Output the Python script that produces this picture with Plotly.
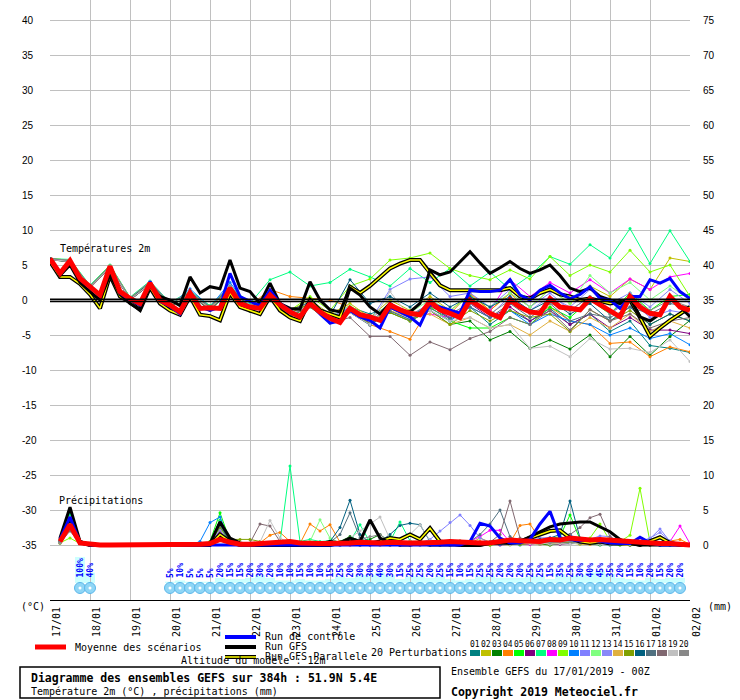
import plotly.graph_objects as go

# axe des temps : heures depuis le 17/01/2019 00Z
jours = ["17/01", "18/01", "19/01", "20/01", "21/01", "22/01", "23/01", "24/01", "25/01",
         "26/01", "27/01", "28/01", "29/01", "30/01", "31/01", "01/02", "02/02"]
heures_jours = list(range(0, 385, 24))
heures_6 = list(range(0, 385, 6))
heures_12 = list(range(0, 385, 12))

temp_ticks = [40, 35, 30, 25, 20, 15, 10, 5, 0, -5, -10, -15, -20, -25, -30, -35]
pluie_ticks = [75, 70, 65, 60, 55, 50, 45, 40, 35, 30, 25, 20, 15, 10, 5, 0]

# séries principales (pas de 6h)
moyenne_temp = [5.9, 3.8, 5.6, 3.1, 1.9, 0.7, 4.8, 1.2, 0.2, -0.5, 2.4, 0.0, -0.7,
                -1.7, 1.0, -1.2, -1.1, -1.2, 1.7, -0.5, -1.0, -1.2, 0.7, -0.7, -1.7, -2.4,
                -0.5, -1.7, -2.6, -3.2, -1.2, -2.1, -2.4, -2.9, -0.7, -1.4, -1.9, -2.1, -0.2,
                -1.4, -1.9, -2.5, 0.0, -1.0, -1.9, -2.5, 0.0, -1.0, -1.7, -1.9, 0.2, -1.0,
                -1.2, -1.4, 0.2, -0.7, -1.4, -2.4, 0.5, -1.0, -1.9, -2.1, 0.5, -1.0, -1.5]
controle_temp = [5.9, 3.7, 5.5, 3.0, 1.8, 0.6, 4.7, 1.0, 0.0, -0.7, 2.6, -0.2, -0.9,
                 -2.0, 1.2, -1.0, -1.5, -1.0, 3.8, 0.5, -0.2, -0.8, 1.4, -0.5, -1.5, -2.5,
                 -0.3, -2.0, -3.3, -3.0, -1.5, -2.4, -2.9, -4.0, -1.0, -1.7, -2.4, -3.6, -0.5,
                 -1.0, -1.5, -1.9, 1.4, 1.2, 1.2, 1.4, 2.9, 0.7, 0.0, 1.4, 2.1, 1.0,
                 0.2, 0.8, 1.9, 0.2, 0.0, -1.2, 0.5, 0.5, 2.9, 2.4, 3.1, 1.2, 0.2]
gfs_temp = [6.0, 3.5, 5.0, 2.5, 1.2, 0.0, 3.6, 0.8, -0.5, -1.4, 2.0, 0.5, 0.0,
            -0.8, 3.3, 1.0, 1.9, 1.6, 5.7, 1.7, 1.2, -0.5, 2.4, -0.5, -1.2, -1.3,
            2.6, 0.0, -1.4, -1.7, 1.7, 0.7, -1.0, -2.0, -0.5, -1.5, -1.7, -0.5, 4.3,
            3.6, 4.0, 5.5, 6.9, 5.3, 3.8, 4.6, 5.5, 4.5, 3.8, 4.3, 5.0, 3.5,
            1.7, 1.2, 1.7, 0.5, 0.0, -0.5, 0.3, -2.4, -3.0, -2.0, 0.5, -1.0, -2.4]
parallele_temp = [5.5, 3.3, 3.3, 2.3, 0.8, -1.2, 3.5, 0.5, -0.3, -1.4, 1.8, -0.5, -1.5,
                  -2.1, 0.5, -2.1, -2.3, -2.9, 1.0, -1.0, -1.5, -2.0, 0.5, -1.5, -2.5, -3.0,
                  0.0, -1.5, -2.0, -2.5, 1.9, 1.0, 2.0, 3.3, 4.5, 5.2, 5.7, 5.7, 3.8,
                  2.1, 1.4, 1.4, 1.4, 1.4, 1.4, 1.4, 1.7, 0.5, 0.2, 1.0, 1.5, 0.8,
                  0.5, 0.0, 0.2, -0.2, -0.5, -0.3, 0.0, -2.5, -5.2, -4.0, -2.9, -2.0, -1.0]

moyenne_pluie = [None, 0.5, 2.9, 0.3, 0.1, 0.0, 0.0, 0.0, 0.0, 0.0, 0.0, 0.0, 0.1,
                 0.1, 0.1, 0.1, 0.2, 0.8, 0.4, 0.1, 0.1, 0.2, 0.2, 0.3, 0.5, 0.3,
                 0.2, 0.2, 0.2, 0.2, 0.3, 0.4, 0.3, 0.3, 0.4, 0.3, 0.3, 0.3, 0.3,
                 0.4, 0.5, 0.4, 0.3, 0.3, 0.3, 0.5, 0.7, 0.6, 0.5, 0.5, 0.8, 0.7,
                 1.0, 0.8, 0.7, 0.8, 0.7, 0.6, 0.5, 0.3, 0.3, 0.2, 0.2, 0.1, 0.0]
controle_pluie = [None, 0.8, 4.0, 0.3, 0.0, 0.0, 0.0, 0.0, 0.0, 0.0, 0.0, 0.0, 0.0,
                  0.0, 0.0, 0.0, 0.0, 0.0, 0.0, 0.0, 0.0, 0.0, 0.0, 0.0, 0.0, 0.0,
                  0.0, 0.0, 0.0, 0.0, 0.0, 0.0, 0.0, 0.0, 0.0, 0.0, 0.0, 0.0, 0.0,
                  0.0, 0.0, 0.0, 0.5, 3.1, 2.7, 1.0, 0.3, 0.3, 0.8, 3.0, 4.8, 1.0,
                  0.8, 0.6, 0.8, 0.5, 0.3, 0.2, 0.2, 1.1, 0.3, 0.0, 0.0, 0.0, 0.0]
gfs_pluie = [None, 1.0, 5.4, 0.5, 0.0, 0.0, 0.0, 0.0, 0.0, 0.0, 0.0, 0.0, 0.0,
             0.0, 0.0, 0.0, 0.2, 3.3, 1.0, 0.3, 0.0, 0.0, 0.2, 0.0, 0.0, 0.0,
             0.0, 0.2, 0.5, 0.3, 1.0, 0.5, 3.6, 1.0, 0.3, 0.0, 0.0, 0.2, 0.0,
             0.0, 0.0, 0.0, 0.0, 0.0, 0.2, 0.2, 0.3, 0.5, 1.2, 1.9, 2.6, 3.0,
             3.2, 3.3, 3.3, 2.6, 1.9, 0.8, 0.2, 0.0, 0.0, 0.0, 0.0, 0.0, 0.0]
parallele_pluie = [None, 0.8, 3.0, 0.4, 0.0, 0.0, 0.0, 0.0, 0.0, 0.0, 0.0, 0.0, 0.0,
                   0.0, 0.0, 0.0, 0.0, 1.5, 0.5, 0.0, 0.0, 0.0, 0.0, 0.0, 0.0, 0.0,
                   0.0, 0.0, 0.0, 0.3, 0.5, 0.3, 0.2, 0.5, 1.0, 0.8, 1.5, 0.8, 2.4,
                   0.5, 0.2, 0.0, 0.0, 0.0, 0.3, 0.5, 0.3, 0.5, 1.0, 1.5, 2.0, 2.1,
                   1.0, 0.5, 0.3, 0.5, 0.2, 0.2, 0.3, 0.0, 0.5, 1.1, 0.3, 0.0, 0.0]

# 20 perturbations : température (pas de 12h)
temp_p01 = [5.8, 5.5, 1.8, 4.7, 0.1, 2.3, -0.9, 1.1, -1.4, 1.5, -1.5,
            0.2, -2.0, -0.8, -3.0, -1.0, -2.0, -1.0, -2.5, -0.5, -2.8, -1.0,
            -3.5, -1.5, -3.0, -1.2, -3.5, -2.0, -4.5, -3.0, -6.5, -6.9, -7.5]
temp_p02 = [5.9, 5.7, 2.0, 4.9, 0.3, 2.6, -0.5, 1.2, -1.0, 2.0, -0.8,
            1.0, -1.5, 0.0, -2.0, -0.5, -2.5, 0.0, -1.5, 0.5, -1.5, 0.8,
            -1.5, 1.0, -1.0, 1.5, -0.5, 2.0, 0.5, 3.0, 1.5, 6.0, 5.5]
temp_p03 = [5.8, 5.4, 1.7, 4.6, 0.0, 2.2, -1.0, 0.8, -1.5, 1.3, -1.6,
            0.3, -2.3, -1.0, -3.2, -1.8, -3.5, -1.8, -3.0, -1.5, -3.5, -3.0,
            -5.7, -4.5, -6.9, -5.7, -7.0, -5.0, -8.1, -5.2, -7.9, -5.2, -2.9]
temp_p04 = [5.9, 5.5, 1.8, 4.8, 0.2, 2.5, -0.6, 1.0, -1.2, 1.8, -0.8,
            1.5, 0.5, 0.3, 0.0, -1.0, -3.5, -4.5, -5.6, -1.0, -2.0, 1.0,
            -1.5, 1.0, -2.0, -1.0, -3.0, -3.5, -6.2, -6.0, -8.1, -6.7, -7.4]
temp_p05 = [5.9, 5.6, 2.0, 4.9, 0.3, 2.5, -0.6, 1.1, -1.0, 1.8, -1.2,
            0.6, -1.8, -0.6, -2.8, -1.5, -3.2, -1.0, -2.5, -1.0, -3.0, -4.0,
            -4.0, -2.5, -3.5, -1.0, -2.5, 0.0, -2.0, 1.0, -1.5, 0.5, 0.8]
temp_p06 = [5.8, 5.6, 1.9, 4.7, 0.2, 2.3, -0.8, 0.9, -1.3, 1.6, -1.3,
            0.5, -2.0, -0.7, -3.0, -1.5, -3.3, -1.2, -2.4, -0.8, -2.5, -0.5,
            -2.5, -1.0, -3.0, -1.5, -3.5, -2.0, -4.0, -2.5, -4.3, -4.3, -4.8]
temp_p07 = [5.9, 5.8, 2.1, 5.0, 0.4, 2.7, -0.4, 1.3, -0.8, 2.0, -0.5,
            2.9, 4.0, 2.0, 2.5, 4.4, 3.3, 2.0, 4.5, 2.5, 4.5, 2.0,
            4.0, 1.5, 3.5, 6.2, 5.1, 7.9, 6.0, 10.2, 5.2, 9.9, 5.5]
temp_p08 = [5.9, 5.6, 2.0, 4.8, 0.3, 2.4, -0.7, 1.0, -1.1, 1.9, -1.0,
            0.8, -1.6, -0.4, -2.5, -1.0, -2.8, -0.5, -2.0, -2.0, -2.5, -0.5,
            -1.5, 2.9, 0.5, 2.5, 1.0, 2.9, 1.0, 3.0, 1.5, 3.3, 3.8]
temp_p09 = [5.9, 5.7, 2.0, 4.9, 0.3, 2.5, -0.6, 1.2, -0.9, 1.9, -0.8,
            1.0, -1.5, 0.5, -1.5, 2.0, 3.0, 5.7, 6.0, 6.7, 4.5, 3.5,
            2.9, 4.3, 3.0, 6.2, 3.5, 5.0, 4.0, 7.1, 4.0, 5.0, 0.5]
temp_p10 = [5.8, 5.5, 1.8, 4.7, 0.1, 2.4, -0.8, 1.6, -1.0, 2.5, -1.2,
            0.5, -2.0, -0.8, -3.0, -1.5, -3.5, -1.5, -2.8, -1.5, -3.0, -1.0,
            -2.5, -1.5, -3.5, -2.0, -3.0, -3.5, -5.0, -4.0, -5.5, -4.8, -6.4]
temp_p11 = [5.9, 5.6, 1.9, 4.8, 0.2, 2.6, -0.5, 1.2, -1.0, 2.0, -0.8,
            1.0, -1.5, -0.3, -2.5, -1.0, -3.0, 1.5, 3.0, 3.3, 0.5, 1.0,
            -1.0, 1.5, -1.0, 1.0, -1.5, 0.5, -2.0, 0.0, -2.5, -1.5, -2.0]
temp_p12 = [5.9, 5.7, 2.0, 4.9, 0.3, 2.5, -0.6, 1.1, -1.0, 1.8, -0.9,
            0.8, -1.6, -0.4, -2.4, -0.8, -2.6, -0.5, -1.8, 0.0, -1.5, 0.5,
            -1.0, 1.0, -1.0, 1.5, -0.5, 3.5, 1.0, 2.5, 0.0, 2.0, 0.0]
temp_p13 = [5.8, 5.5, 1.8, 4.7, 0.1, 2.3, -0.8, 0.9, -1.2, 1.6, -1.2,
            0.5, -1.9, -0.7, -2.8, -1.3, -3.2, -1.0, -2.2, -0.5, -2.2, -0.3,
            -2.2, 0.5, -1.5, 0.5, -1.0, 1.5, -0.5, 1.0, -1.0, 1.5, -0.5]
temp_p14 = [5.9, 5.6, 1.9, 4.8, 0.2, 2.4, -0.7, 1.0, -1.1, 1.7, -1.1,
            0.6, -1.8, -0.6, -2.7, -1.4, -3.0, -1.5, -2.5, -2.0, -3.5, -2.5,
            -4.0, -3.5, -5.0, -3.0, -4.5, -2.5, -4.0, -2.0, -4.5, -3.0, -4.0]
temp_p15 = [5.8, 5.5, 1.8, 4.7, 0.1, 2.3, -0.8, 0.9, -1.2, 1.6, -1.1,
            0.6, -1.9, -0.5, -3.0, -1.6, -3.4, -1.8, -3.0, -1.5, -3.5, -1.5,
            -3.0, -1.5, -2.5, -2.0, -4.5, -1.4, -3.0, -1.5, -3.5, -2.0, -3.0]
temp_p16 = [5.9, 5.6, 2.0, 4.8, 0.2, 2.5, -0.6, 1.1, -1.0, 1.8, -1.0,
            0.8, -1.5, -0.3, -2.2, 2.9, -0.5, 0.5, -1.0, 1.0, -1.0, 0.5,
            -1.0, 0.5, -1.5, 0.0, -2.0, -0.5, -3.0, -1.0, -3.5, -2.0, -3.0]
temp_p17 = [5.8, 5.5, 1.8, 4.6, 0.0, 2.2, -0.9, 0.8, -1.4, 1.4, -1.4,
            0.4, -2.1, -0.8, -3.1, -1.8, -3.6, -1.6, -2.8, -1.2, -2.6, -1.0,
            -2.5, -0.5, -2.5, -0.5, -3.0, -2.0, -2.5, -1.0, -2.0, -0.5, -1.0]
temp_p18 = [5.8, 5.4, 1.7, 4.6, 0.0, 2.2, -0.9, 0.8, -1.3, 1.5, -1.4,
            0.4, -2.2, -0.9, -3.3, -2.5, -5.2, -5.2, -7.9, -6.0, -7.1, -5.5,
            -4.5, -2.5, -3.5, -1.5, -4.3, -1.4, -3.0, -2.0, -4.0, -3.0, -2.5]
temp_p19 = [5.8, 5.5, 1.8, 4.7, 0.1, 2.3, -0.8, 0.9, -1.2, 1.5, -1.3,
            0.4, -2.0, -0.8, -3.0, -1.8, -3.5, 1.2, -2.5, -1.5, -3.0, -2.5,
            -4.0, -3.5, -6.9, -6.6, -8.1, -5.5, -7.0, -6.9, -7.5, -5.7, -8.8]
temp_p20 = [5.9, 5.7, 2.0, 4.9, 0.3, 2.6, -0.5, 1.2, -1.0, 2.0, -0.9,
            0.9, -1.5, -0.4, -2.6, -1.2, -3.0, -1.0, -2.3, -0.5, -2.0, -0.5,
            -2.0, 0.0, -2.0, -0.5, -1.5, 0.5, -2.0, 0.5, -1.5, 0.0, -1.0]

# 20 perturbations : précipitations en mm (pas de 6h)
pluie_p01 = [None, 0.6, 4.5, 0.3, 0, 0, 0, 0, 0, 0, 0, 0, 0,
             0, 0, 0, 0.3, 2.0, 0.2, 0, 0, 0.1, 0.2, 0.1, 0, 0,
             0.2, 0.1, 0, 0, 0.3, 0.1, 0, 0.2, 0, 0.1, 0.4, 0.2, 0,
             0, 0.1, 0.2, 0, 0.1, 0.3, 0.5, 0.2, 0, 0.3, 0.2, 0.1, 0.4,
             1.5, 0.3, 0.2, 0.1, 0, 0.2, 0.4, 0.1, 0, 0, 0.1, 0, 0]
pluie_p02 = [None, 0.5, 3.5, 0.2, 0, 0, 0, 0, 0, 0, 0, 0, 0,
             0, 0, 0, 0.2, 2.5, 0.3, 0.1, 0, 0, 0.1, 0.3, 0.1, 0,
             0, 0.2, 0.1, 0, 0, 0.2, 0.3, 0.1, 0, 0, 0.2, 0.1, 0.3,
             0.1, 0, 0, 0.2, 1.0, 0.4, 0.1, 0, 0.2, 0.3, 0.1, 0, 0.2,
             0.3, 0.1, 0.2, 0.8, 0.2, 0, 0, 0.1, 0, 0.2, 0.1, 0, 0]
pluie_p03 = [None, 0.4, 3.0, 0.3, 0, 0, 0, 0, 0, 0, 0, 0, 0,
             0, 0, 0, 0.4, 3.5, 0.4, 0.2, 0.1, 0, 0, 0.2, 0.3, 0.1,
             0, 0, 0.3, 0.5, 1.2, 0.6, 0.8, 1.5, 0.4, 0.2, 0, 0.1, 0,
             0, 0, 0.1, 0.3, 0.2, 0, 0.1, 0.2, 0.4, 0.3, 0.1, 0, 0.2,
             0.4, 0.3, 0.1, 0, 0.2, 0.1, 0, 0, 0.3, 0.2, 0, 0.1, 0]
pluie_p04 = [None, 0.5, 3.0, 0.2, 0, 0, 0, 0, 0, 0, 0, 0, 0,
             0, 0, 0, 0.2, 1.9, 0.3, 0, 0.1, 0.3, 1.4, 1.8, 0.5, 0.2,
             3.0, 2.0, 2.9, 0.4, 0.1, 0, 0.2, 0.1, 0, 0.3, 0.2, 0.5, 0.3,
             0.1, 0, 0.2, 0.3, 0.5, 0.2, 0.4, 0.3, 2.8, 3.0, 0.8, 0.4, 0.2,
             0.3, 0.2, 0.1, 0.4, 0.2, 0.1, 0, 0.2, 0.1, 0.3, 0.5, 0.8, 0.1]
pluie_p05 = [None, 0.7, 4.0, 0.4, 0, 0, 0, 0, 0, 0, 0, 0, 0,
             0, 0, 0, 0.5, 4.6, 0.6, 0.1, 0, 0, 0.2, 0.1, 0, 0.1,
             0.3, 0.2, 0, 0.1, 0.2, 0.4, 0.3, 0.5, 1.3, 0.4, 0.2, 0.1, 0,
             0.2, 0.1, 0, 0.1, 0.3, 0.2, 0.1, 0.3, 0.2, 0.4, 0.6, 0.9, 1.2,
             4.3, 0.8, 0.3, 0.2, 0.1, 0, 0.2, 0.3, 0.1, 0, 0.2, 0.1, 0]
pluie_p06 = [None, 0.5, 3.5, 0.3, 0, 0, 0, 0, 0, 0, 0, 0, 0,
             0, 0, 0, 0.2, 1.5, 0.2, 0, 0, 0.1, 0, 0, 0.2, 0.1,
             0, 0, 0.1, 0.2, 0.1, 0, 0, 0.2, 0.1, 0, 0.1, 0, 0.2,
             0.1, 0, 0, 0.2, 0.3, 0.1, 0, 0.1, 0.2, 0.1, 0.3, 0.2, 0.1,
             0.2, 0.4, 0.3, 0.2, 0.8, 0.3, 0.1, 0, 0, 0.1, 0, 0, 0]
pluie_p07 = [None, 0.6, 4.2, 0.3, 0, 0, 0, 0, 0, 0, 0, 0, 0,
             0, 0, 0, 0.4, 3.5, 0.5, 0.1, 0, 0, 0.2, 0.4, 11.3, 0.5,
             0.8, 0.5, 0.6, 0.3, 0.5, 2.9, 0.4, 0.3, 0.5, 3.3, 0.6, 0.2, 0.1,
             0, 0.2, 0.3, 0.1, 0.2, 0.4, 0.2, 0.1, 0.3, 0.2, 0.5, 0.3, 0.2,
             0.4, 0.2, 0.3, 0.1, 0, 0.2, 0.1, 0.3, 0.2, 0.1, 0, 0.1, 0]
pluie_p08 = [None, 0.6, 3.9, 0.5, 0.1, 0, 0, 0, 0, 0, 0, 0, 0,
             0, 0, 0, 0.2, 2.0, 0.3, 0, 0, 0.1, 0, 0.2, 0.1, 0,
             0.1, 0, 0.2, 0.1, 0, 0.3, 0.1, 0, 0.2, 0.1, 0, 0.2, 0.3,
             0.1, 0.2, 0.3, 0.5, 1.2, 2.1, 2.1, 0.4, 0.2, 0.1, 0.3, 0.5, 0.8,
             0.6, 0.3, 0.2, 0.5, 0.7, 0.4, 0.2, 0.1, 0.3, 0.2, 0.5, 2.7, 0.2]
pluie_p09 = [None, 0.3, 1.0, 0.2, 0, 0, 0, 0, 0, 0, 0, 0, 0,
             0, 0, 0, 0.3, 2.5, 0.4, 0.2, 0.1, 0, 0, 0.1, 0.2, 0,
             0.1, 0.3, 0.2, 0, 0.1, 0.2, 0.1, 0, 0.2, 0.3, 0.1, 0, 0.1,
             0, 0.1, 0.3, 0.2, 0.1, 0, 0.2, 0.3, 0.1, 0.2, 0.4, 0.3, 0.6,
             0.8, 0.5, 1.0, 3.0, 0.6, 0.5, 1.4, 8.1, 0.4, 0.2, 0.1, 0, 0]
pluie_p10 = [None, 0.5, 3.0, 0.2, 0, 0, 0, 0, 0, 0, 0, 0, 0,
             0, 0, 0.5, 3.2, 4.0, 0.5, 0.1, 0, 0, 0.1, 0, 0, 0.1,
             0, 0.1, 0, 0.2, 0.1, 0, 0.1, 0.3, 0.2, 0.1, 0, 0.1, 0,
             0.1, 0.2, 0, 0.1, 0.3, 0.2, 0.1, 0.2, 0.4, 0.3, 0.5, 0.6, 0.8,
             1.5, 0.5, 0.2, 0.3, 0.1, 0.2, 0, 0.1, 0.3, 0.1, 0, 0.2, 0]
pluie_p11 = [None, 0.4, 2.5, 0.2, 0, 0, 0, 0, 0, 0, 0, 0, 0,
             0, 0, 0, 0.1, 0.8, 0.2, 0, 0.1, 0, 0, 0.1, 0, 0,
             0.2, 0.1, 0, 0, 0.1, 0.2, 0.1, 0, 0.3, 0.2, 0.5, 0.3, 0.8,
             2.0, 3.2, 4.3, 2.8, 1.0, 0.3, 0.2, 0.1, 0.3, 0.2, 0.1, 0.4, 0.3,
             0.2, 0.5, 0.8, 1.3, 1.2, 0.4, 0.3, 0.4, 0.9, 2.3, 0.5, 0.2, 0]
pluie_p12 = [None, 0.6, 3.8, 0.3, 0, 0, 0, 0, 0, 0, 0, 0, 0,
             0, 0, 0, 0.3, 3.0, 0.4, 0.1, 0, 0, 0.1, 0.2, 0.3, 0.1,
             0.5, 3.6, 1.0, 0.3, 0.2, 0.1, 0.3, 0.2, 0.4, 0.2, 0.1, 0.3, 0.2,
             0.1, 0, 0.2, 0.1, 0.3, 0.2, 0.4, 0.3, 0.2, 0.5, 0.4, 0.2, 0.3,
             0.5, 0.3, 0.6, 0.4, 0.2, 0.1, 0.2, 0.3, 0.1, 0, 0.2, 0.1, 0]
pluie_p13 = [None, 0.5, 3.3, 0.2, 0, 0, 0, 0, 0, 0, 0, 0, 0,
             0, 0, 0, 0.2, 2.2, 0.3, 0, 0, 0, 0.1, 0, 0.2, 0.1,
             0, 0.1, 0.2, 0, 0.1, 0, 0.2, 0.1, 0.3, 0.2, 0.1, 0, 0.2,
             0.3, 0.4, 0.6, 0.3, 0.2, 0.5, 0.3, 0.2, 0.4, 0.6, 1.0, 1.1, 0.5,
             0.3, 0.2, 0.4, 0.2, 0.1, 0.2, 0.3, 0.5, 1.0, 1.8, 0.6, 0.2, 0]
pluie_p14 = [None, 0.4, 2.8, 0.2, 0, 0, 0, 0, 0, 0, 0, 0, 0,
             0, 0, 0, 0.2, 1.5, 0.2, 0, 0, 0.1, 0, 0, 0.1, 0,
             0.2, 0.1, 0, 0.1, 0, 0.2, 0.1, 0, 0.2, 0.4, 0.5, 0.6, 0.3,
             0.2, 0.4, 0.6, 0.4, 0.3, 0.2, 0.5, 0.4, 0.3, 0.2, 0.1, 0.3, 0.2,
             0.3, 0.2, 0.1, 0.4, 0.2, 0.1, 0.3, 0.2, 0.1, 0, 0.1, 0, 0]
pluie_p15 = [None, 0.3, 2.2, 0.2, 0, 0, 0, 0, 0, 0, 0, 0, 0,
             0, 0, 0, 0.5, 2.5, 0.8, 0.8, 0.8, 0.5, 0.1, 0, 0.2, 0.1,
             0, 0.2, 0.1, 0.3, 0.2, 0, 0.3, 0.1, 0.2, 0, 0.1, 0.2, 0.1,
             0, 0.2, 0.1, 0.3, 0.2, 0.4, 0.3, 0.2, 0.1, 0.2, 0.3, 0.5, 0.4,
             0.3, 0.2, 0.4, 0.3, 0.1, 0.2, 0, 0.1, 0.2, 0, 0.1, 0, 0]
pluie_p16 = [None, 0.5, 3.6, 0.3, 0, 0, 0, 0, 0, 0, 0, 0, 0,
             0, 0, 0, 0.3, 3.0, 0.3, 0.1, 0, 0, 0.2, 0.1, 0, 0.2,
             0.1, 0.3, 0.5, 2.5, 6.4, 1.5, 0.3, 0.5, 1.5, 2.8, 3.1, 2.9, 0.5,
             0.3, 0.2, 0.1, 0.2, 0.4, 0.3, 0.5, 0.2, 0.3, 0.5, 0.8, 1.0, 1.5,
             6.3, 1.0, 0.4, 0.3, 0.2, 0.1, 0.2, 0.3, 0.1, 0, 0.2, 0, 0]
pluie_p17 = [None, 0.5, 3.2, 0.2, 0, 0, 0, 0, 0, 0, 0, 0, 0,
             0, 0, 0, 0.3, 2.8, 0.3, 0, 0.1, 0, 0, 0.2, 0.1, 0,
             0.2, 0.1, 0.4, 1.5, 4.6, 1.0, 0.2, 0.3, 0.1, 0, 0.2, 0.1, 0.3,
             0.2, 0.1, 0.3, 0.5, 1.5, 3.0, 5.0, 1.2, 0.4, 0.3, 0.2, 0.5, 0.3,
             0.2, 0.4, 0.3, 0.2, 0.1, 0.3, 0.2, 0.1, 0, 0.2, 0.1, 0, 0]
pluie_p18 = [None, 0.3, 2.0, 0.2, 0, 0, 0, 0, 0, 0, 0, 0, 0,
             0, 0, 0, 0.1, 0.8, 0.2, 0.1, 0.3, 3.0, 2.7, 0.5, 0.2, 0.1,
             0, 0.2, 0.1, 0, 0.3, 0.2, 0.1, 0.2, 0, 0.1, 0.3, 0.2, 0.1,
             0, 0.2, 0.3, 0.1, 0.2, 0.4, 1.5, 6.3, 1.0, 0.3, 0.2, 0.4, 0.6,
             1.5, 2.5, 3.9, 4.4, 1.2, 0.3, 0.2, 0.1, 0.3, 0.2, 0.4, 0.1, 0]
pluie_p19 = [None, 0.4, 2.6, 0.2, 0, 0, 0, 0, 0, 0, 0, 0, 0,
             0, 0, 0, 0.2, 1.0, 0.2, 0.1, 0, 0.4, 3.5, 1.0, 0.2, 0.1,
             0.3, 0.1, 0.2, 0.4, 1.0, 2.0, 3.0, 4.0, 0.8, 0.5, 1.5, 2.9, 0.6,
             0.2, 0.1, 0.3, 0.2, 0.1, 0.3, 0.2, 0.1, 0.4, 0.2, 0.3, 0.1, 0.2,
             0.1, 0.3, 0.2, 0.1, 0, 0.2, 0.1, 0.3, 0.2, 0.1, 0, 0.1, 0]
pluie_p20 = [None, 0.4, 3.0, 0.2, 0, 0, 0, 0, 0, 0, 0, 0, 0,
             0, 0, 0, 0.2, 1.8, 0.3, 0.1, 0, 0.2, 0.3, 0.1, 0, 0.1,
             0.2, 0, 0.1, 0.3, 0.5, 0.8, 1.2, 1.5, 0.4, 0.2, 0.1, 0.3, 0.2,
             0.1, 0.3, 0.2, 0.4, 0.3, 0.5, 0.3, 0.2, 0.4, 0.6, 0.5, 0.3, 0.4,
             0.5, 0.3, 0.4, 0.2, 0.3, 0.1, 0.2, 0.4, 0.3, 0.2, 0.1, 0.1, 0]

couleurs_perturbations = ["#008080", "#C0C000", "#008000", "#FF8000", "#00FF00",
                          "#800080", "#00FF80", "#FF00FF", "#80FF00", "#0080FF",
                          "#8080FF", "#80FF80", "#8888F8", "#E0B040", "#80A000",
                          "#006080", "#507080", "#806870", "#C0C0C0", "#888888"]
noms_perturbations = ["01", "02", "03", "04", "05", "06", "07", "08", "09", "10",
                      "11", "12", "13", "14", "15", "16", "17", "18", "19", "20"]

# probabilité de précipitations (%)
heures_proba = [18, 24] + list(range(72, 384, 6))
proba_pluie = [100, 40, 5, 10, 5, 5, 5, 20, 15, 15, 20, 30, 20, 10, 10, 15, 10, 10, 15, 25,
               20, 30, 30, 40, 30, 15, 25, 25, 20, 25, 15, 10, 15, 25, 25, 20, 20, 20, 25, 25,
               15, 35, 25, 30, 40, 45, 35, 20, 15, 10, 20, 15, 20, 20]

temp_perturbations = [temp_p01, temp_p02, temp_p03, temp_p04, temp_p05, temp_p06, temp_p07,
                      temp_p08, temp_p09, temp_p10, temp_p11, temp_p12, temp_p13, temp_p14,
                      temp_p15, temp_p16, temp_p17, temp_p18, temp_p19, temp_p20]
pluie_perturbations = [pluie_p01, pluie_p02, pluie_p03, pluie_p04, pluie_p05, pluie_p06,
                       pluie_p07, pluie_p08, pluie_p09, pluie_p10, pluie_p11, pluie_p12,
                       pluie_p13, pluie_p14, pluie_p15, pluie_p16, pluie_p17, pluie_p18,
                       pluie_p19, pluie_p20]

MONO = "DejaVu Sans Mono"
SANS = "Liberation Sans"
Y_HAUT = 300 / 7  # 7 px par degré, zone de tracé de 600 px
Y_NEIGE = -41.14


def px(x, y):
    # pixel de la page -> coordonnées papier
    return (x - 50) / 640, (600 - y) / 600


fig = go.Figure()

for temp, pluie, col in zip(temp_perturbations, pluie_perturbations, couleurs_perturbations):
    fig.add_trace(go.Scatter(x=heures_12, y=temp, mode="lines+markers",
                             line=dict(color=col, width=1), marker=dict(color=col, size=3)))
    fig.add_trace(go.Scatter(x=heures_6, y=pluie, yaxis="y2", mode="lines+markers",
                             line=dict(color=col, width=1), marker=dict(color=col, size=3)))

# run GFS parallèle : trait jaune bordé de noir
for ax, vals in (("y", parallele_temp), ("y2", parallele_pluie)):
    fig.add_trace(go.Scatter(x=heures_6, y=vals, yaxis=ax, mode="lines",
                             line=dict(color="black", width=4)))
    fig.add_trace(go.Scatter(x=heures_6, y=vals, yaxis=ax, mode="lines",
                             line=dict(color="#FFFF00", width=1.5)))

for vals_t, vals_p, col, w in [(gfs_temp, gfs_pluie, "black", 3),
                               (controle_temp, controle_pluie, "#0000FF", 3),
                               (moyenne_temp, moyenne_pluie, "#FF0000", 5)]:
    fig.add_trace(go.Scatter(x=heures_6, y=vals_t, mode="lines", line=dict(color=col, width=w)))
    fig.add_trace(go.Scatter(x=heures_6, y=vals_p, yaxis="y2", mode="lines",
                             line=dict(color=col, width=w)))

# icônes de neige sous la zone de précipitations
fig.add_trace(go.Scatter(x=heures_proba, y=[Y_NEIGE] * len(heures_proba), mode="markers",
                         marker=dict(symbol="circle", size=11, color="#8FD6F6",
                                     line=dict(color="#5AB6EA", width=1))))
fig.add_trace(go.Scatter(x=heures_proba, y=[Y_NEIGE] * len(heures_proba), mode="markers",
                         marker=dict(symbol="circle", size=3, color="white")))

shapes = []
annotations = []

# ligne double du 0 °C
for y0 in (0.1, -0.2):
    shapes.append(dict(type="line", xref="paper", x0=0, x1=1, yref="y", y0=y0, y1=y0,
                       line=dict(color="black", width=1.5)))

for h, p in zip(heures_proba, proba_pluie):
    shapes.append(dict(type="rect", xref="x", yref="y", x0=h - 3, x1=h + 3,
                       y0=-40.43, y1=-40.43 + 0.26 * p / 7, fillcolor="#CCFFFF",
                       line=dict(width=0), layer="below"))
    annotations.append(dict(x=h, y=-40, xref="x", yref="y", text=f"{p}%", textangle=-90,
                            showarrow=False, xanchor="center", yanchor="bottom",
                            font=dict(family=MONO, size=8, color="#0000FF", weight="bold")))

for v in temp_ticks:
    annotations.append(dict(x=px(20, 0)[0], xref="paper", y=v, yref="y", text=str(v),
                            showarrow=False, xanchor="left", yanchor="middle",
                            font=dict(family=SANS, size=10, color="black")))


def texte(x, y, t, taille=10, gras=False):
    xp, yp = px(x, y)
    annotations.append(dict(x=xp, y=yp, xref="paper", yref="paper", text=t, showarrow=False,
                            xanchor="left", yanchor="middle",
                            font=dict(family=MONO, size=taille, color="black",
                                      weight="bold" if gras else "normal")))


def trait(x0, x1, y, col, w):
    a, b = px(x0, y)
    c, _ = px(x1, y)
    shapes.append(dict(type="line", xref="paper", yref="paper", x0=a, x1=c, y0=b, y1=b,
                       line=dict(color=col, width=w)))


texte(58, 248, "Températures 2m")
texte(57, 500, "Précipitations")
texte(19, 606, "(°C)")
texte(706, 606, "(mm)")

trait(35, 66, 647, "#FF0000", 5)
texte(73, 647, "Moyenne des scénarios")
trait(225, 256, 637, "#0000FF", 4)
texte(263, 636, "Run de contrôle")
trait(225, 256, 647, "black", 4)
texte(263, 646, "Run GFS")
trait(225, 256, 657, "black", 4)
trait(225, 256, 657, "#FFFF00", 1.5)
texte(263, 656, "Run GFS Parallele")
texte(179, 660, "Altitude du modèle : 12m")
texte(369, 652, "20 Perturbations")

for i, (nom, col) in enumerate(zip(noms_perturbations, couleurs_perturbations)):
    x0 = 470 + 11 * i
    a, b = px(x0, 650)
    c, d = px(x0 + 10, 656)
    shapes.append(dict(type="rect", xref="paper", yref="paper", x0=a, x1=c, y0=b, y1=d,
                       fillcolor=col, line=dict(width=0)))
    xp, yp = px(x0 + 5, 644)
    annotations.append(dict(x=xp, y=yp, xref="paper", yref="paper", text=nom, showarrow=False,
                            xanchor="center", yanchor="middle",
                            font=dict(family=MONO, size=8, color="black")))

a, b = px(20, 667)
c, d = px(440, 698)
shapes.append(dict(type="rect", xref="paper", yref="paper", x0=a, x1=c, y0=b, y1=d,
                   line=dict(color="black", width=1.5), fillcolor="white"))
texte(29, 678, "Diagramme des ensembles GEFS sur 384h : 51.9N 5.4E", 11.5, True)
texte(29, 691, "Température 2m (°C) , précipitations (mm)")
texte(449, 671, "Ensemble GEFS du 17/01/2019 - 00Z")
texte(449, 692, "Copyright 2019 Meteociel.fr", 11.5, True)

fig.update_layout(
    width=740, height=700,
    margin=dict(l=50, r=50, t=0, b=100),
    paper_bgcolor="white", plot_bgcolor="white",
    showlegend=False,
    shapes=shapes, annotations=annotations,
    xaxis=dict(range=[0, 384], tickvals=heures_jours, ticktext=jours, tickangle=-90,
               showgrid=True, gridcolor="#C0C0C0", gridwidth=1, zeroline=False,
               showline=True, linecolor="black", linewidth=1, ticks="",
               tickfont=dict(family=MONO, size=10, color="black"),
               ticklabelshift=7, ticklabelstandoff=2),
    yaxis=dict(range=[-Y_HAUT, Y_HAUT], tickvals=temp_ticks, showticklabels=False,
               showgrid=True, gridcolor="#C0C0C0", gridwidth=1, zeroline=False, ticks=""),
    yaxis2=dict(range=[-Y_HAUT + 35, Y_HAUT + 35], tickvals=pluie_ticks, overlaying="y",
                side="right", showgrid=False, zeroline=False, ticks="",
                tickfont=dict(family=SANS, size=10, color="black"), ticklabelstandoff=12),
)

# la page est photographiée à 740x700 : on retire la marge par défaut du navigateur
fig.write_html("out.html", config={"displayModeBar": False},
               post_script="document.body.style.margin = '0px';")
